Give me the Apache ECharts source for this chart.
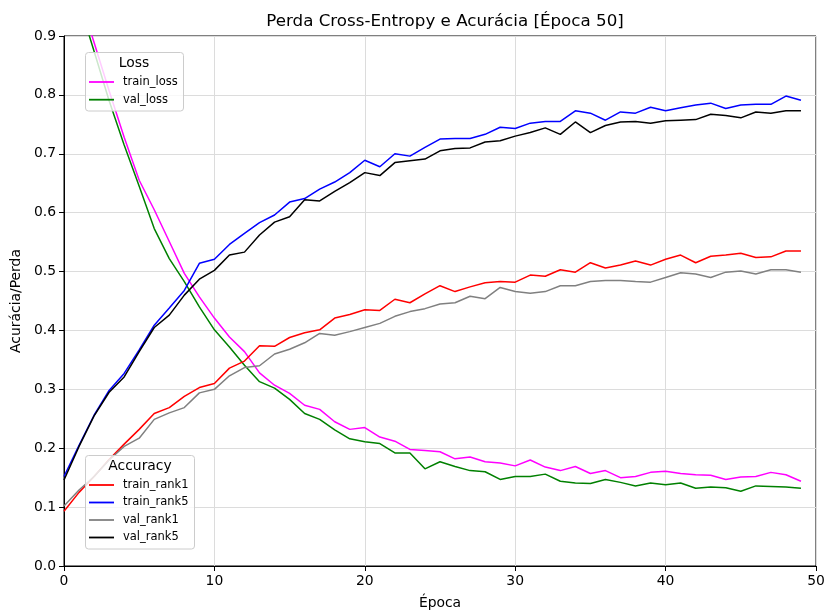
<!DOCTYPE html>
<html>
<head>
<meta charset="utf-8">
<title>Perda Cross-Entropy e Acurácia</title>
<script src="https://cdn.jsdelivr.net/npm/echarts@6/dist/echarts.min.js"></script>
<style>
  html, body { margin: 0; padding: 0; background: #fff; }
  #chart { width: 825px; height: 611px; }
</style>
</head>
<body>
<div id="chart"></div>
<script>
// Training history, one value per epoch
const epochs = Array.from({ length: 50 }, (_, i) => i);

const trainLoss = [1.12, 0.97, 0.889, 0.807, 0.728, 0.655, 0.605, 0.551, 0.497, 0.457,
  0.421, 0.389, 0.364, 0.328, 0.307, 0.293, 0.273, 0.266, 0.245, 0.232,
  0.235, 0.219, 0.212, 0.198, 0.196, 0.194, 0.182, 0.185, 0.177, 0.175,
  0.170, 0.180, 0.168, 0.162, 0.169, 0.157, 0.162, 0.150, 0.152, 0.159,
  0.161, 0.157, 0.155, 0.154, 0.147, 0.151, 0.152, 0.159, 0.155, 0.144];

const valLoss = [1.08, 0.957, 0.874, 0.790, 0.715, 0.645, 0.573, 0.522, 0.483, 0.440,
  0.401, 0.372, 0.341, 0.313, 0.302, 0.283, 0.259, 0.249, 0.231, 0.216,
  0.211, 0.208, 0.192, 0.192, 0.165, 0.177, 0.169, 0.162, 0.160, 0.147,
  0.152, 0.152, 0.156, 0.144, 0.141, 0.140, 0.147, 0.142, 0.136, 0.141,
  0.138, 0.141, 0.132, 0.134, 0.133, 0.127, 0.136, 0.135, 0.134, 0.132];

const trainRank1 = [0.093, 0.125, 0.152, 0.181, 0.207, 0.232, 0.259, 0.269, 0.288, 0.303,
  0.310, 0.336, 0.348, 0.374, 0.373, 0.388, 0.396, 0.401, 0.421, 0.427,
  0.435, 0.434, 0.453, 0.447, 0.462, 0.476, 0.466, 0.474, 0.481, 0.483,
  0.482, 0.494, 0.492, 0.503, 0.499, 0.515, 0.506, 0.511, 0.518, 0.511,
  0.521, 0.528, 0.515, 0.526, 0.528, 0.531, 0.524, 0.525, 0.535, 0.535];

const trainRank5 = [0.152, 0.205, 0.256, 0.298, 0.327, 0.367, 0.409, 0.438, 0.468, 0.514,
  0.521, 0.546, 0.565, 0.583, 0.596, 0.618, 0.624, 0.640, 0.652, 0.668,
  0.689, 0.678, 0.700, 0.696, 0.711, 0.725, 0.726, 0.726, 0.733, 0.745,
  0.743, 0.752, 0.755, 0.755, 0.773, 0.769, 0.757, 0.771, 0.769, 0.779,
  0.773, 0.778, 0.783, 0.786, 0.777, 0.783, 0.784, 0.784, 0.798, 0.791];

const valRank1 = [0.102, 0.129, 0.152, 0.180, 0.203, 0.217, 0.249, 0.260, 0.269, 0.294,
  0.300, 0.323, 0.337, 0.340, 0.360, 0.368, 0.379, 0.395, 0.392, 0.398,
  0.405, 0.412, 0.424, 0.432, 0.437, 0.445, 0.447, 0.458, 0.454, 0.473,
  0.466, 0.463, 0.466, 0.476, 0.476, 0.483, 0.485, 0.485, 0.483, 0.482,
  0.490, 0.498, 0.496, 0.490, 0.499, 0.501, 0.496, 0.503, 0.503, 0.499];

const valRank5 = [0.146, 0.203, 0.255, 0.295, 0.321, 0.364, 0.405, 0.426, 0.460, 0.487,
  0.502, 0.528, 0.533, 0.562, 0.584, 0.593, 0.622, 0.620, 0.636, 0.651,
  0.668, 0.663, 0.685, 0.688, 0.691, 0.705, 0.709, 0.710, 0.720, 0.722,
  0.730, 0.736, 0.744, 0.733, 0.754, 0.736, 0.748, 0.754, 0.755, 0.752,
  0.756, 0.757, 0.758, 0.767, 0.765, 0.761, 0.771, 0.769, 0.773, 0.773];

const xTicks = [0, 10, 20, 30, 40, 50];
const yTicks = [0.0, 0.1, 0.2, 0.3, 0.4, 0.5, 0.6, 0.7, 0.8, 0.9];

const FONT = 'DejaVu Sans';

const lineDefs = [
  { name: 'train_loss', values: trainLoss, color: '#ff00ff' },
  { name: 'val_loss', values: valLoss, color: '#008000' },
  { name: 'train_rank1', values: trainRank1, color: '#ff0000' },
  { name: 'train_rank5', values: trainRank5, color: '#0000ff' },
  { name: 'val_rank1', values: valRank1, color: '#808080' },
  { name: 'val_rank5', values: valRank5, color: '#000000' }
];

const series = lineDefs.map(d => ({
  name: d.name,
  type: 'line',
  data: epochs.map((e, i) => [e, d.values[i]]),
  color: d.color,
  showSymbol: false,
  symbol: 'none',
  clip: true,
  lineStyle: { width: 1.5, color: d.color },
  emphasis: { disabled: true },
  z: 2
}));

const legendText = {
  fontFamily: FONT, fontSize: 11.5, color: '#000',
  lineHeight: 14, padding: [0, 0, 0, 4]
};

const chart = echarts.init(document.getElementById('chart'), null, { renderer: 'canvas' });

chart.setOption({
  animation: false,
  backgroundColor: '#fff',
  title: {
    text: 'Perda Cross-Entropy e Acurácia [Época 50]',
    left: 440, top: 8, textAlign: 'center',
    textStyle: { fontFamily: FONT, fontSize: 16.7, fontWeight: 'normal', color: '#000' }
  },
  grid: {
    left: 64, right: 9, top: 36, bottom: 45,
    outerBoundsMode: 'none', containLabel: false,
    show: true, borderColor: '#000', borderWidth: 1, backgroundColor: 'transparent'
  },
  xAxis: {
    type: 'value', min: xTicks[0], max: xTicks[xTicks.length - 1], interval: 10,
    name: 'Época', nameLocation: 'middle', nameGap: 30,
    nameTextStyle: { fontFamily: FONT, fontSize: 13.9, color: '#000' },
    axisLine: { show: true, onZero: false, lineStyle: { color: '#000', width: 1 } },
    axisTick: { show: true, inside: false, length: 5, lineStyle: { color: '#000' } },
    axisLabel: { fontFamily: FONT, fontSize: 13.9, color: '#000', margin: 8 },
    splitLine: { show: true, lineStyle: { color: '#dcdcdc', width: 1 } }
  },
  yAxis: {
    type: 'value', min: yTicks[0], max: yTicks[yTicks.length - 1], interval: 0.1,
    name: 'Acurácia/Perda', nameLocation: 'middle', nameGap: 39,
    nameTextStyle: { fontFamily: FONT, fontSize: 13.9, color: '#000' },
    axisLine: { show: true, onZero: false, lineStyle: { color: '#000', width: 1 } },
    axisTick: { show: true, inside: false, length: 5, lineStyle: { color: '#000' } },
    axisLabel: {
      fontFamily: FONT, fontSize: 13.9, color: '#000', margin: 8,
      formatter: v => v.toFixed(1)
    },
    splitLine: { show: true, lineStyle: { color: '#dcdcdc', width: 1 } }
  },
  legend: [
    {
      data: ['train_loss', 'val_loss'],
      orient: 'vertical', left: 89, top: 75, padding: 0,
      icon: 'rect', itemWidth: 25, itemHeight: 1.8, itemGap: 3.7,
      textStyle: legendText, z: 6, selectedMode: false
    },
    {
      data: ['train_rank1', 'train_rank5', 'val_rank1', 'val_rank5'],
      orient: 'vertical', left: 89, top: 478, padding: 0,
      icon: 'rect', itemWidth: 25, itemHeight: 1.8, itemGap: 3.5,
      textStyle: legendText, z: 6, selectedMode: false
    }
  ],
  graphic: [
    {
      type: 'rect', z: 5,
      shape: { x: 85.5, y: 52.5, width: 98, height: 58.5, r: 3 },
      style: { fill: 'rgba(255,255,255,0.8)', stroke: '#cccccc', lineWidth: 1 }
    },
    {
      type: 'text', z: 6, x: 134, y: 63,
      style: { text: 'Loss', font: '13.9px "DejaVu Sans"', fill: '#000', align: 'center', verticalAlign: 'middle' }
    },
    {
      type: 'rect', z: 5,
      shape: { x: 85.5, y: 455.5, width: 109, height: 93.5, r: 3 },
      style: { fill: 'rgba(255,255,255,0.8)', stroke: '#cccccc', lineWidth: 1 }
    },
    {
      type: 'text', z: 6, x: 140, y: 466,
      style: { text: 'Accuracy', font: '13.9px "DejaVu Sans"', fill: '#000', align: 'center', verticalAlign: 'middle' }
    }
  ],
  series: series
});
</script>
</body>
</html>
